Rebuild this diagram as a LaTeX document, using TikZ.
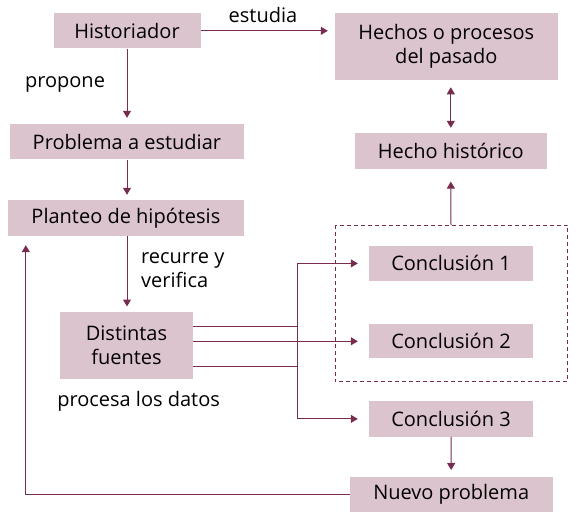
\documentclass[tikz,border=0pt]{standalone}
\usepackage{fontspec}
\setmainfont{Open Sans}
\usetikzlibrary{arrows.meta}
\definecolor{boxfill}{RGB}{220,196,206}
\definecolor{arr}{RGB}{120,45,80}
\tikzset{
  box/.style={fill=boxfill, inner sep=0pt, align=center, font=\fontsize{20}{24}\selectfont},
  lbl/.style={inner sep=0pt, font=\fontsize{20}{24}\selectfont},
  conn/.style={draw=arr, line width=1pt, -{Triangle[width=8pt,length=7pt]}},
  dconn/.style={draw=arr, line width=1pt, {Triangle[width=8pt,length=7pt]}-{Triangle[width=8pt,length=7pt]}}
}
\begin{document}
\begin{tikzpicture}[x=1pt,y=-1pt]
\useasboundingbox (0,0) rectangle (576,530);
\node[box, minimum width=147pt, minimum height=35pt] (hist) at (127,30.8) {Historiador};
\node[box, minimum width=222.6pt, minimum height=66.7pt] (hech) at (446.3,46.7) {Hechos o procesos\\del pasado};
\node[box, minimum width=233.7pt, minimum height=35.3pt] (prob) at (126.9,141.7) {Problema a estudiar};
\node[box, minimum width=191.5pt, minimum height=36.3pt] (hh) at (450.8,151.2) {Hecho histórico};
\node[box, minimum width=235.7pt, minimum height=36pt] (plan) at (125.9,218) {Planteo de hipótesis};
\node[box, minimum width=164pt, minimum height=35.3pt] (c1) at (451,263.4) {Conclusión 1};
\node[box, minimum width=133pt, minimum height=67.6pt] (dist) at (126.5,345.5) {Distintas\\fuentes};
\node[box, minimum width=164pt, minimum height=34pt] (c2) at (451,341.3) {Conclusión 2};
\node[box, minimum width=164pt, minimum height=35.7pt] (c3) at (451,418.9) {Conclusión 3};
\node[box, minimum width=203pt, minimum height=35.6pt] (nuevo) at (451.2,494.5) {Nuevo problema};
\draw[draw=arr, line width=0.9pt, dash pattern=on 4pt off 3pt] (335,225) rectangle (567.6,381.7);
\coordinate (dtop) at (451,225);
\coordinate (loopc) at (25.8,494.5);
\coordinate (c1k) at (297.3,263.4);
\coordinate (c3k) at (297.3,418.9);
\node[lbl] (estudia) at (263,15) {estudia};
\node[lbl] (propone) at (65,84) {propone};
\node[lbl, anchor=west, align=left] (recurre) at (141,270) {recurre y\\verifica};
\node[lbl] (procesa) at (138.6,401.7) {procesa los datos};
% connectors
\draw[conn, shorten >=7pt] (hist.east) -- (hist.east -| hech.west);
\draw[conn, shorten >=6pt] (hist.south) -- (prob.north -| hist.south);
\draw[conn, shorten >=5pt] (prob.south -| hist.south) -- (plan.north -| hist.south);
\draw[conn, shorten >=5pt] (plan.south -| hist.south) -- (dist.north -| hist.south);
\draw[dconn, shorten <=7pt, shorten >=5pt] (hech.south -| hh.north) -- (hh.north);
\draw[conn, shorten >=12pt] (dtop) -- (hh.south);
\draw[conn, shorten >=11pt] ([yshift=-20.5pt]dist.east) -| (c1k) -- (c1.west);
\draw[conn, shorten >=11pt] (dist.east |- c2.west) -- (c2.west);
\draw[conn, shorten >=11pt] ([yshift=19.5pt]dist.east) -| (c3k) -- (c3.west);
\draw[conn, shorten >=6.5pt] (c3.south) -- (nuevo.north);
\draw[conn, shorten >=9pt] (nuevo.west) -- (loopc) -- (loopc |- plan.south);
\end{tikzpicture}
\end{document}
